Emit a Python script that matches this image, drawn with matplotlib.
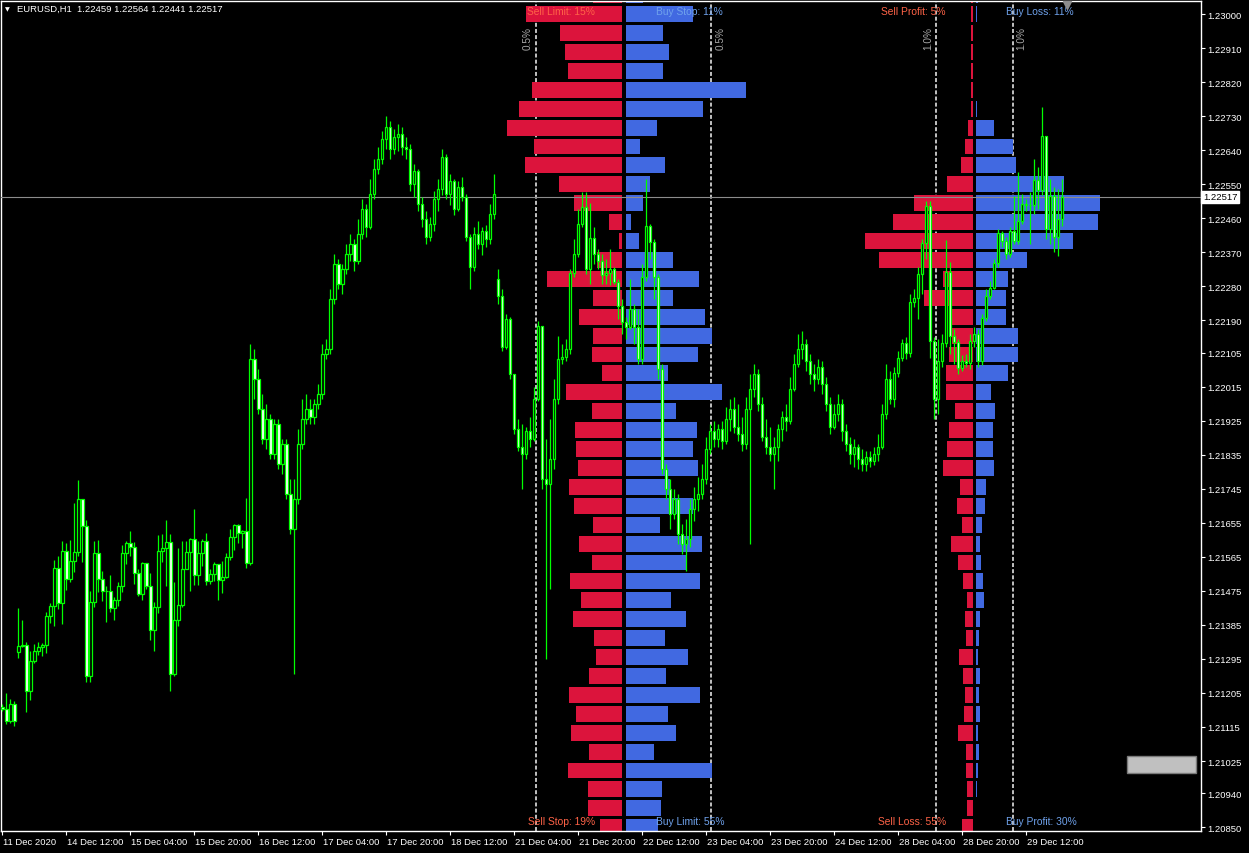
import numpy as np
import matplotlib
matplotlib.use("Agg")
import matplotlib.pyplot as plt
import matplotlib.transforms as mtransforms
from matplotlib.patches import Rectangle

plt.rcParams['font.family'] = ['Liberation Sans', 'DejaVu Sans']

# EURUSD H1 candles, 11 Dec 2020 20:00 .. 29 Dec 2020
close = [
    1.21163, 1.21131, 1.21176, 1.21131, 1.21329, 1.21332, 1.21211, 1.21290, 1.21316, 1.21327, 1.21332, 1.21409, 1.21435, 1.21535, 1.21443, 1.21581,
    1.21507, 1.21554, 1.21578, 1.21718, 1.21647, 1.21250, 1.21446, 1.21575, 1.21507, 1.21475, 1.21475, 1.21430, 1.21451, 1.21488, 1.21575, 1.21601,
    1.21591, 1.21522, 1.21467, 1.21548, 1.21488, 1.21372, 1.21433, 1.21581, 1.21588, 1.21604, 1.21256, 1.21398, 1.21438, 1.21533, 1.21578, 1.21612,
    1.21517, 1.21575, 1.21607, 1.21501, 1.21520, 1.21546, 1.21504, 1.21512, 1.21565, 1.21617, 1.21649, 1.21628, 1.21633, 1.21548, 1.22088, 1.22035,
    1.21956, 1.21877, 1.21930, 1.21837, 1.21916, 1.21810, 1.21863, 1.21731, 1.21639, 1.21718, 1.21863, 1.21930, 1.21956, 1.21935, 1.21969, 1.21996,
    1.22102, 1.22115, 1.22247, 1.22340, 1.22287, 1.22326, 1.22366, 1.22392, 1.22348, 1.22419, 1.22485, 1.22437, 1.22525, 1.22591, 1.22617, 1.22670,
    1.22702, 1.22643, 1.22675, 1.22683, 1.22649, 1.22643, 1.22551, 1.22585, 1.22498, 1.22458, 1.22411, 1.22445, 1.22511, 1.22538, 1.22622, 1.22525,
    1.22559, 1.22485, 1.22543, 1.22517, 1.22411, 1.22332, 1.22419, 1.22392, 1.22427, 1.22405, 1.22472, 1.22525, 1.22255, 1.22120, 1.22194, 1.22048,
    1.21903, 1.21856, 1.21837, 1.21898, 1.21877, 1.21982, 1.22175, 1.21771, 1.21757, 1.21824, 1.21982, 1.22088, 1.22094, 1.22115, 1.22316, 1.22366,
    1.22445, 1.22490, 1.22326, 1.22408, 1.22366, 1.22348, 1.22311, 1.22316, 1.22326, 1.22292, 1.22228, 1.22186, 1.22173, 1.22220, 1.22173, 1.22088,
    1.22305, 1.22440, 1.22398, 1.22305, 1.22062, 1.21797, 1.21744, 1.21678, 1.21718, 1.21625, 1.21599, 1.21612, 1.21692, 1.21718, 1.21731, 1.21771,
    1.21850, 1.21898, 1.21877, 1.21903, 1.21871, 1.21930, 1.21956, 1.21909, 1.21890, 1.21863, 1.21956, 1.22009, 1.22048, 1.21969, 1.21882, 1.21856,
    1.21837, 1.21856, 1.21903, 1.21935, 1.21924, 1.22009, 1.22075, 1.22115, 1.22128, 1.22083, 1.22048, 1.22035, 1.22067, 1.22022, 1.21969, 1.21909,
    1.21943, 1.21969, 1.21898, 1.21863, 1.21837, 1.21856, 1.21824, 1.21810, 1.21829, 1.21818, 1.21837, 1.21856, 1.21943, 1.22035, 1.21982, 1.22051,
    1.22091, 1.22131, 1.22104, 1.22239, 1.22249, 1.22313, 1.22395, 1.22493, 1.22136, 1.21982, 1.22083, 1.22131, 1.22318, 1.22149, 1.22133, 1.22064,
    1.22083, 1.22078, 1.22136, 1.22154, 1.22083, 1.22197, 1.22255, 1.22276, 1.22342, 1.22421, 1.22400, 1.22366, 1.22427, 1.22400, 1.22453, 1.22498,
    1.22495, 1.22495, 1.22561, 1.22535, 1.22678, 1.22432, 1.22519, 1.22411, 1.22459, 1.22517,
]
high = [
    1.21176, 1.21205, 1.21189, 1.21184, 1.21430, 1.21398, 1.21340, 1.21316, 1.21335, 1.21340, 1.21337, 1.21419, 1.21443, 1.21556, 1.21567, 1.21607,
    1.21601, 1.21610, 1.21707, 1.21768, 1.21715, 1.21662, 1.21475, 1.21607, 1.21610, 1.21528, 1.21488, 1.21517, 1.21459, 1.21499, 1.21596, 1.21607,
    1.21633, 1.21604, 1.21533, 1.21551, 1.21546, 1.21522, 1.21446, 1.21623, 1.21625, 1.21662, 1.21625, 1.21499, 1.21588, 1.21607, 1.21607, 1.21615,
    1.21692, 1.21607, 1.21612, 1.21628, 1.21533, 1.21551, 1.21546, 1.21554, 1.21575, 1.21639, 1.21652, 1.21652, 1.21636, 1.21720, 1.22128, 1.22115,
    1.22062, 1.21996, 1.21969, 1.21943, 1.21930, 1.21930, 1.21877, 1.21877, 1.21771, 1.21771, 1.21903, 1.21982, 1.21996, 1.21982, 1.21982, 1.22022,
    1.22128, 1.22141, 1.22273, 1.22366, 1.22353, 1.22340, 1.22392, 1.22419, 1.22405, 1.22458, 1.22511, 1.22498, 1.22564, 1.22617, 1.22649, 1.22691,
    1.22731, 1.22717, 1.22696, 1.22709, 1.22702, 1.22675, 1.22657, 1.22604, 1.22591, 1.22517, 1.22479, 1.22464, 1.22533, 1.22564, 1.22643, 1.22630,
    1.22577, 1.22564, 1.22559, 1.22570, 1.22525, 1.22419, 1.22437, 1.22453, 1.22437, 1.22443, 1.22498, 1.22577, 1.22326, 1.22273, 1.22207, 1.22199,
    1.22048, 1.21930, 1.21916, 1.21909, 1.21935, 1.22014, 1.22189, 1.22175, 1.21877, 1.21930, 1.22035, 1.22149, 1.22128, 1.22141, 1.22326, 1.22405,
    1.22485, 1.22530, 1.22530, 1.22501, 1.22437, 1.22379, 1.22366, 1.22353, 1.22379, 1.22332, 1.22300, 1.22247, 1.22199, 1.22300, 1.22234, 1.22220,
    1.22340, 1.22564, 1.22445, 1.22405, 1.22313, 1.22075, 1.21810, 1.21771, 1.21744, 1.21731, 1.21652, 1.21665, 1.21718, 1.21750, 1.21776, 1.21810,
    1.21882, 1.21916, 1.21924, 1.21916, 1.21924, 1.21961, 1.21982, 1.21988, 1.21969, 1.21935, 1.21988, 1.22048, 1.22075, 1.22062, 1.21988, 1.21930,
    1.21909, 1.21882, 1.21916, 1.21951, 1.21969, 1.22040, 1.22102, 1.22154, 1.22162, 1.22141, 1.22102, 1.22075, 1.22088, 1.22083, 1.22040, 1.21988,
    1.21969, 1.21996, 1.21982, 1.21916, 1.21882, 1.21877, 1.21863, 1.21850, 1.21845, 1.21845, 1.21856, 1.21890, 1.21969, 1.22075, 1.22056, 1.22067,
    1.22109, 1.22141, 1.22147, 1.22260, 1.22273, 1.22332, 1.22405, 1.22506, 1.22506, 1.22147, 1.22141, 1.22154, 1.22403, 1.22345, 1.22168, 1.22141,
    1.22099, 1.22102, 1.22154, 1.22173, 1.22168, 1.22207, 1.22273, 1.22294, 1.22353, 1.22432, 1.22427, 1.22411, 1.22437, 1.22519, 1.22583, 1.22525,
    1.22511, 1.22530, 1.22617, 1.22596, 1.22754, 1.22678, 1.22564, 1.22543, 1.22538, 1.22564,
]
low = [
    1.21158, 1.21123, 1.21126, 1.21118, 1.21297, 1.21327, 1.21155, 1.21186, 1.21284, 1.21305, 1.21303, 1.21311, 1.21390, 1.21382, 1.21427, 1.21388,
    1.21477, 1.21499, 1.21525, 1.21567, 1.21551, 1.21234, 1.21234, 1.21433, 1.21472, 1.21448, 1.21393, 1.21419, 1.21398, 1.21435, 1.21472, 1.21546,
    1.21567, 1.21494, 1.21462, 1.21451, 1.21480, 1.21345, 1.21316, 1.21417, 1.21551, 1.21488, 1.21211, 1.21250, 1.21382, 1.21433, 1.21535, 1.21475,
    1.21491, 1.21491, 1.21541, 1.21491, 1.21494, 1.21501, 1.21451, 1.21470, 1.21509, 1.21556, 1.21583, 1.21601, 1.21588, 1.21535, 1.21543, 1.21982,
    1.21943, 1.21863, 1.21850, 1.21824, 1.21824, 1.21797, 1.21784, 1.21718, 1.21625, 1.21256, 1.21705, 1.21850, 1.21916, 1.21916, 1.21916, 1.21956,
    1.21982, 1.22088, 1.22102, 1.22234, 1.22273, 1.22260, 1.22313, 1.22348, 1.22321, 1.22340, 1.22405, 1.22411, 1.22432, 1.22511, 1.22577, 1.22604,
    1.22643, 1.22617, 1.22630, 1.22638, 1.22627, 1.22617, 1.22533, 1.22517, 1.22479, 1.22437, 1.22392, 1.22400, 1.22427, 1.22479, 1.22522, 1.22511,
    1.22495, 1.22469, 1.22479, 1.22506, 1.22400, 1.22273, 1.22321, 1.22379, 1.22363, 1.22384, 1.22392, 1.22458, 1.22234, 1.22109, 1.22115, 1.22035,
    1.21890, 1.21845, 1.21744, 1.21824, 1.21856, 1.21871, 1.21977, 1.21744, 1.21295, 1.21480, 1.21797, 1.21969, 1.22075, 1.22083, 1.22102, 1.22305,
    1.22358, 1.22437, 1.22313, 1.22287, 1.22340, 1.22326, 1.22287, 1.22287, 1.22284, 1.22287, 1.22194, 1.22154, 1.22141, 1.22168, 1.22128, 1.22075,
    1.22075, 1.22295, 1.22353, 1.22247, 1.22035, 1.21784, 1.21718, 1.21639, 1.21665, 1.21599, 1.21572, 1.21528, 1.21591, 1.21660, 1.21686, 1.21718,
    1.21757, 1.21837, 1.21856, 1.21856, 1.21850, 1.21863, 1.21898, 1.21893, 1.21871, 1.21845, 1.21850, 1.21599, 1.21988, 1.21951, 1.21871, 1.21837,
    1.21818, 1.21744, 1.21818, 1.21871, 1.21898, 1.21916, 1.22004, 1.22067, 1.22088, 1.22056, 1.22022, 1.22004, 1.22022, 1.21996, 1.21951, 1.21890,
    1.21903, 1.21924, 1.21871, 1.21845, 1.21810, 1.21803, 1.21797, 1.21792, 1.21792, 1.21803, 1.21808, 1.21818, 1.21850, 1.21930, 1.21969, 1.21961,
    1.22040, 1.22083, 1.22088, 1.22094, 1.22226, 1.22194, 1.22260, 1.22353, 1.22091, 1.21930, 1.21943, 1.22067, 1.22120, 1.22102, 1.22075, 1.22048,
    1.22056, 1.22067, 1.22062, 1.22120, 1.22067, 1.22072, 1.22189, 1.22247, 1.22273, 1.22331, 1.22384, 1.22353, 1.22358, 1.22392, 1.22392, 1.22445,
    1.22479, 1.22392, 1.22472, 1.22485, 1.22522, 1.22405, 1.22392, 1.22371, 1.22361, 1.22441,
]
first_open = 1.21168
gap_open = {4: 1.21313, 124: 1.22300}   # weekend gaps

date_labels = ["11 Dec 2020", "14 Dec 12:00", "15 Dec 04:00", "15 Dec 20:00", "16 Dec 12:00",
               "17 Dec 04:00", "17 Dec 20:00", "18 Dec 12:00", "21 Dec 04:00", "21 Dec 20:00",
               "22 Dec 12:00", "23 Dec 04:00", "23 Dec 20:00", "24 Dec 12:00", "28 Dec 04:00",
               "28 Dec 20:00", "29 Dec 12:00"]
price_ticks = [1.23000, 1.22910, 1.22820, 1.22730, 1.22640, 1.22550, 1.22460, 1.22370, 1.22280,
               1.22190, 1.22105, 1.22015, 1.21925, 1.21835, 1.21745, 1.21655, 1.21565, 1.21475,
               1.21385, 1.21295, 1.21205, 1.21115, 1.21025, 1.20940, 1.20850]
last_price = 1.22517
header = "EURUSD,H1  1.22459 1.22564 1.22441 1.22517"

# order book / position book, price levels 1.2305 down to 1.2085 (step 0.0005), values in %
levels = np.round(1.2305 - 0.0005 * np.arange(45), 4)
orders_sell = [0.166, 0.549, 0.354, 0.326, 0.309, 0.514, 0.589, 0.657, 0.503, 0.554, 0.360, 0.274,
               0.074, 0.017, 0.143, 0.429, 0.166, 0.246, 0.166, 0.171, 0.114, 0.320, 0.171, 0.269,
               0.263, 0.251, 0.303, 0.274, 0.166, 0.246, 0.171, 0.297, 0.234, 0.280, 0.160, 0.149,
               0.189, 0.303, 0.263, 0.291, 0.189, 0.309, 0.194, 0.194, 0.126]
orders_buy = [0.097, 0.383, 0.211, 0.246, 0.211, 0.686, 0.440, 0.177, 0.080, 0.223, 0.137, 0.097,
              0.029, 0.074, 0.269, 0.417, 0.269, 0.451, 0.491, 0.411, 0.240, 0.549, 0.286, 0.406,
              0.383, 0.411, 0.251, 0.383, 0.194, 0.434, 0.343, 0.423, 0.257, 0.343, 0.223, 0.354,
              0.229, 0.423, 0.240, 0.286, 0.160, 0.491, 0.206, 0.200, 0.183]
positions_sell = [0.05, 0.05, 0.05, 0.05, 0.05, 0.05, 0.05, 0.13, 0.21, 0.32, 0.68, 1.53, 2.08, 2.82,
                  2.45, 0.79, 1.26, 0.61, 0.53, 0.61, 0.71, 0.71, 0.47, 0.61, 0.66, 0.79, 0.34, 0.42,
                  0.29, 0.58, 0.39, 0.26, 0.16, 0.21, 0.18, 0.37, 0.26, 0.21, 0.24, 0.39, 0.18, 0.18,
                  0.16, 0.16, 0.29]
positions_buy = [0.05, 0.03, 0.0, 0.0, 0.0, 0.0, 0.03, 0.47, 0.97, 1.05, 2.29, 3.24, 3.18, 2.53,
                 1.34, 0.84, 0.79, 0.79, 1.08, 1.08, 0.84, 0.39, 0.50, 0.45, 0.45, 0.47, 0.26, 0.24,
                 0.16, 0.11, 0.13, 0.18, 0.21, 0.11, 0.08, 0.05, 0.11, 0.08, 0.11, 0.05, 0.08, 0.05,
                 0.03, 0.0, 0.0]
orders_labels = ("Sell Limit: 15%", "Buy Stop: 11%", "Sell Stop: 19%", "Buy Limit: 55%")
positions_labels = ("Sell Profit: 5%", "Buy Loss: 11%", "Sell Loss: 55%", "Buy Profit: 30%")

LIME = '#00ff00'
RED = '#dc143c'
BLUE = '#4169e1'
SELL_TXT = '#ff6347'
BUY_TXT = '#6fa2ec'

W, H = 1249, 854
fig = plt.figure(figsize=(W / 100, H / 100), dpi=100, facecolor='black')
ax = fig.add_axes([1 / W, 22 / H, 1200 / W, 830.5 / H], facecolor='black')
ax.set_xlim(-0.35, 299.7)
ax.set_ylim(1.20840, 1.23036)

n = len(close)
x = np.arange(n)
opens = [first_open] + close[:-1]
for i, v in gap_open.items():
    opens[i] = v
o, c, h, l = map(np.array, (opens, close, high, low))

# profiles (left: open orders, right: open positions)
lc, ls = 155.4, 43.75     # centre (bar index) and bar-index units per 1 %
rc, rs = 243.05, 9.6
bh = 0.00042
ax.barh(levels, -np.array(orders_sell) * ls, height=bh, left=lc - 0.5, color=RED, zorder=2)
ax.barh(levels, np.array(orders_buy) * ls, height=bh, left=lc + 0.5, color=BLUE, zorder=2)
ax.barh(levels, -np.array(positions_sell) * rs, height=bh, left=rc - 0.4, color=RED, zorder=2)
ax.barh(levels, np.array(positions_buy) * rs, height=bh, left=rc + 0.4, color=BLUE, zorder=2)

for xv in (lc - 0.5 * ls, lc + 0.5 * ls, rc - 1.0 * rs, rc + 1.0 * rs):
    ax.axvline(xv, color='#d0d0d0', lw=1.3, ls=(0, (2.2, 1.2)), zorder=1)
tx = ax.get_xaxis_transform()
for xv, t in ((lc - 0.5 * ls - 2.1, "0.5%"), (lc + 0.5 * ls + 2.3, "0.5%"),
              (rc - 1.0 * rs - 1.9, "1.0%"), (rc + 1.0 * rs + 2.2, "1.0%")):
    ax.text(xv, 0.955, t, transform=tx, rotation=90, color='#a8a8a8', fontsize=7.2,
            ha='center', va='center', zorder=6)

for cx, labs in ((lc, orders_labels), (rc, positions_labels)):
    ax.text(cx - 7.2, 0.9875, labs[0], transform=tx, color=SELL_TXT, fontsize=7.4, ha='right', va='center', zorder=6)
    ax.text(cx + 8.0, 0.9875, labs[1], transform=tx, color=BUY_TXT, fontsize=7.4, ha='left', va='center', zorder=6)
    ax.text(cx - 7.2, 0.012, labs[2], transform=tx, color=SELL_TXT, fontsize=7.4, ha='right', va='center', zorder=6)
    ax.text(cx + 8.0, 0.012, labs[3], transform=tx, color=BUY_TXT, fontsize=7.4, ha='left', va='center', zorder=6)

ax.axhline(last_price, color='#8c8c8c', lw=0.8, zorder=3)

# candles
ax.vlines(x, l, h, color=LIME, lw=0.9, zorder=4)
bull = c >= o
ax.bar(x, np.maximum(np.abs(c - o), 0.000006), 0.58, bottom=np.minimum(o, c),
       color=np.where(bull, 'black', 'white'), edgecolor=LIME, linewidth=0.9, zorder=5)

# frame / axes
for sp in ax.spines.values():
    sp.set_color('white')
    sp.set_linewidth(1.0)
ax.yaxis.tick_right()
ax.set_yticks(price_ticks)
ax.set_yticklabels([f"{p:.5f}" for p in price_ticks])
ax.set_xticks(np.arange(0, 16 * len(date_labels), 16))
ax.set_xticklabels(date_labels, ha='left')
ax.tick_params(colors='white', labelsize=6.8, length=3, width=0.8, pad=1.5)
off = mtransforms.ScaledTranslation(1.0 / 100, 0, fig.dpi_scale_trans)
for lab in ax.get_xticklabels():
    lab.set_transform(lab.get_transform() + off)

ty = mtransforms.blended_transform_factory(ax.transAxes, ax.transData)
ax.text(1.0015, last_price, f"{last_price:.5f}", transform=ty, color='black', fontsize=6.8,
        va='center', ha='left', bbox=dict(boxstyle='square,pad=0.18', fc='white', ec='white'),
        clip_on=False, zorder=7)

ax.plot([266.2], [0.994], marker='v', ms=6, color='#8c8c8c', transform=tx, clip_on=False, zorder=7)
ax.add_patch(Rectangle((0.9383, 0.0698), 0.0575, 0.0205, transform=ax.transAxes,
                       fc='#c0c0c0', ec='#7a7a7a', lw=1, zorder=7))

fig.text(5 / W, 1 - 10 / H, "\u25BC", color='white', fontsize=4.5, family='DejaVu Sans', va='center')
fig.text(17 / W, 1 - 9.5 / H, header, color='white', fontsize=6.8, va='center')

fig.savefig('out.png', dpi=100, facecolor='black')
